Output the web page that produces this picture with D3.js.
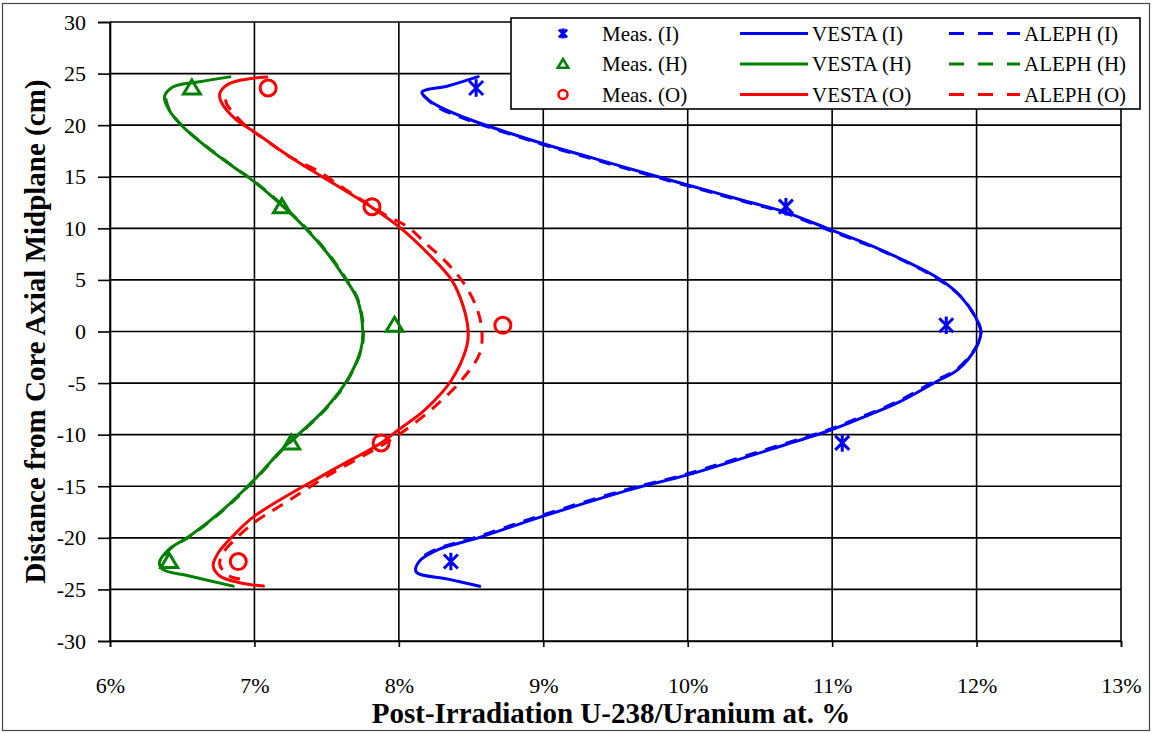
<!DOCTYPE html>
<html>
<head>
<meta charset="utf-8">
<script src="https://cdn.jsdelivr.net/npm/d3@7"></script>
<style>
  html, body { margin: 0; padding: 0; background: #fff; }
  svg { display: block; }
  svg text { font-family: "Liberation Serif", Tinos, "Times New Roman", "DejaVu Serif", serif; fill: #000; }
</style>
</head>
<body>
<svg id="chart" width="1153" height="734"></svg>
<script>
// Axis ticks
const xTicks = [6, 7, 8, 9, 10, 11, 12, 13];
const yTicks = [-30, -25, -20, -15, -10, -5, 0, 5, 10, 15, 20, 25, 30];

// Measured positions (cm) and U-238 at.% for each assembly
const measY = [23.6, 12.1, 0.6, -10.8, -22.3];
const measI = [8.535, 10.68, 11.79, 11.07, 8.36];
const measH = [6.567, 7.19, 7.97, 7.255, 6.41];
const measO = [7.095, 7.814, 8.72, 7.877, 6.888];

// Calculated axial profiles: [U-238 at.%, distance cm]
const vestaI = [[8.55, 24.7], [8.34, 23.8], [8.16, 23.2], [8.20, 22.5], [8.28, 21.8], [8.50, 20.5], [9.0, 18.2], [9.345, 16.8],
  [9.82, 14.9], [10.0, 14.2], [10.41, 12.6], [10.67, 11.6], [11.0, 9.8], [11.34, 7.9], [11.73, 5.2], [11.89, 3.4],
  [11.99, 1.45], [12.03, 0], [12.0, -1.45], [11.87, -3.7], [11.73, -4.8], [11.47, -6.8], [11.2, -8.4], [11.0, -9.5],
  [10.67, -11.0], [10.0, -13.9], [9.61, -15.3], [9.0, -17.9], [8.55, -20.0], [8.28, -21.1], [8.14, -22.3],
  [8.12, -23.3], [8.34, -24.0], [8.56, -24.7]];
const alephI = [[8.17, 22.9], [8.26, 21.8], [8.48, 20.5], [8.98, 18.2], [9.32, 16.8], [9.80, 14.9], [10.39, 12.6],
  [10.65, 11.6], [10.98, 9.8], [11.33, 7.9], [11.72, 5.2], [11.89, 3.4], [11.99, 1.45], [12.03, 0], [12.0, -1.45],
  [11.86, -3.7], [11.71, -4.8], [11.45, -6.8], [11.18, -8.4], [10.98, -9.5], [10.64, -11.0], [9.97, -13.9],
  [9.58, -15.3], [8.97, -17.9], [8.52, -20.0], [8.26, -21.1], [8.13, -22.1]];

const vestaH = [[6.83, 24.68], [6.62, 24.2], [6.435, 23.7], [6.377, 22.74], [6.41, 21.45], [6.505, 19.84], [6.667, 17.9],
  [6.853, 15.97], [7.0, 14.5], [7.2, 12.1], [7.365, 9.84], [7.505, 7.58], [7.62, 5.3], [7.714, 3.06], [7.75, 0],
  [7.737, -1.77], [7.644, -4.68], [7.505, -7.26], [7.365, -9.2], [7.2, -11.3], [7.0, -14.35], [6.784, -17.26],
  [6.55, -19.84], [6.41, -21.1], [6.342, -22.4], [6.365, -23.06], [6.55, -23.7], [6.853, -24.68]];
const alephH = [[6.385, 22.6], [6.415, 21.4], [6.51, 19.8], [6.672, 17.9], [6.858, 15.95], [7.005, 14.5], [7.205, 12.1],
  [7.37, 9.84], [7.51, 7.58], [7.625, 5.3], [7.718, 3.06], [7.755, 0], [7.74, -1.77], [7.648, -4.68], [7.51, -7.26],
  [7.37, -9.2], [7.205, -11.3], [7.005, -14.35], [6.79, -17.26], [6.555, -19.84], [6.415, -21.1], [6.35, -22.3]];

const vestaO = [[7.086, 24.68], [6.90, 24.35], [6.807, 23.87], [6.76, 23.06], [6.77, 22.26], [6.877, 20.48], [7.0, 19.35],
  [7.25, 16.9], [7.505, 14.7], [7.807, 12.1], [8.0, 10.16], [8.20, 7.58], [8.365, 5.0], [8.446, 2.42], [8.48, 0],
  [8.47, -1.45], [8.365, -4.7], [8.18, -7.6], [8.0, -9.5], [7.877, -10.8], [7.505, -13.7], [7.0, -17.9],
  [6.853, -19.8], [6.75, -21.45], [6.714, -22.7], [6.76, -23.7], [6.9, -24.35], [7.063, -24.68]];
const alephO = [[6.80, 22.5], [6.81, 22.0], [6.923, 20.16], [7.093, 18.4], [7.249, 16.9], [7.435, 15.6], [7.605, 14.0],
  [7.76, 12.6], [7.907, 11.3], [8.058, 10.16], [8.19, 8.5], [8.33, 6.7], [8.453, 4.6], [8.54, 2.26], [8.575, 0],
  [8.56, -2.1], [8.435, -4.7], [8.25, -7.26], [8.016, -9.84], [7.83, -11.45], [7.505, -14.0], [7.18, -16.9],
  [7.0, -18.5], [6.877, -20.0], [6.784, -21.45], [6.76, -22.6], [6.82, -23.65], [6.90, -24.0]];

const blue = "#0000FF", green = "#008000", red = "#FF0000";
const serif = "Liberation Serif, Tinos, Times New Roman, DejaVu Serif, serif";

const svg = d3.select("#chart").attr("font-family", serif);
const plot = { left: 110, right: 1121, top: 22, bottom: 641 };

// Outer chart frame
svg.append("rect").attr("x", 2.5).attr("y", 3.5).attr("width", 1147).attr("height", 727)
  .attr("fill", "none").attr("stroke", "#444").attr("stroke-width", 1.2);

const x = d3.scaleLinear().domain([6, 13]).range([plot.left, plot.right]);
const y = d3.scaleLinear().domain([-30, 30]).range([plot.bottom, plot.top]);

// Gridlines
const grid = svg.append("g");
grid.selectAll("line.v").data(xTicks).join("line")
  .attr("x1", d => x(d)).attr("x2", d => x(d)).attr("y1", plot.top).attr("y2", plot.bottom)
  .attr("stroke", "#000").attr("stroke-width", 1.6);
grid.selectAll("line.h").data(yTicks).join("line")
  .attr("x1", plot.left).attr("x2", plot.right).attr("y1", d => y(d)).attr("y2", d => y(d))
  .attr("stroke", "#000").attr("stroke-width", 1.6);

// Y axis
const yAxis = svg.append("g").attr("transform", `translate(${plot.left},0)`)
  .call(d3.axisLeft(y).tickValues(yTicks).tickSize(12).tickPadding(12).tickFormat(d => String(d)));
yAxis.attr("font-family", serif);
yAxis.select(".domain").attr("stroke", "#000").attr("stroke-width", 1.6);
yAxis.selectAll(".tick line").attr("stroke", "#000").attr("stroke-width", 1.6);
yAxis.selectAll(".tick text").attr("font-size", 22).attr("font-family", serif).attr("fill", "#000");

// X axis
const xAxis = svg.append("g").attr("transform", `translate(0,${plot.bottom})`)
  .call(d3.axisBottom(x).tickValues(xTicks).tickSize(6).tickPadding(30).tickFormat(d => d + "%"));
xAxis.attr("font-family", serif);
xAxis.select(".domain").attr("stroke", "#000").attr("stroke-width", 1.6);
xAxis.selectAll(".tick line").attr("stroke", "#000").attr("stroke-width", 1.6);
xAxis.selectAll(".tick text").attr("font-size", 22).attr("font-family", serif).attr("fill", "#000");

// Axis titles
svg.append("text").attr("x", 611).attr("y", 723)
  .attr("text-anchor", "middle").attr("font-size", 29).attr("font-weight", "bold")
  .text("Post-Irradiation U-238/Uranium at. %");
svg.append("text").attr("transform", `translate(45,${(plot.top + plot.bottom) / 2}) rotate(-90)`)
  .attr("text-anchor", "middle").attr("font-size", 29).attr("font-weight", "bold")
  .text("Distance from Core Axial Midplane (cm)");

// Profile curves
const line = d3.line().x(d => x(d[0])).y(d => y(d[1])).curve(d3.curveCatmullRom.alpha(0.5));
const curves = svg.append("g").attr("fill", "none").attr("stroke-width", 3);
const series = [
  { pts: vestaH, color: green, dash: null },
  { pts: alephH, color: green, dash: "12,9" },
  { pts: vestaO, color: red, dash: null },
  { pts: alephO, color: red, dash: "12,9" },
  { pts: vestaI, color: blue, dash: null },
  { pts: alephI, color: blue, dash: "12,9" }
];
series.forEach(s => {
  curves.append("path").attr("d", line(s.pts)).attr("stroke", s.color)
    .attr("stroke-dasharray", s.dash).attr("stroke-linecap", s.dash ? "butt" : "round");
});

// Marker shapes
function starPath(s) {
  return `M${-s},${-s}L${s},${s}M${-s},${s}L${s},${-s}M0,${-s * 1.25}L0,${s * 1.25}`;
}
function triPath(s) {
  return `M0,${-s}L${s * 1.05},${s * 0.75}L${-s * 1.05},${s * 0.75}Z`;
}
const markers = svg.append("g").attr("fill", "none").attr("stroke-width", 3);
measY.forEach((yy, i) => {
  markers.append("path").attr("d", starPath(7)).attr("stroke", blue)
    .attr("transform", `translate(${x(measI[i])},${y(yy)})`);
  markers.append("path").attr("d", triPath(8)).attr("stroke", green)
    .attr("transform", `translate(${x(measH[i])},${y(yy)})`);
  markers.append("circle").attr("r", 8).attr("stroke", red)
    .attr("cx", x(measO[i])).attr("cy", y(yy));
});

// Legend
const legend = svg.append("g");
legend.append("rect").attr("x", 511).attr("y", 18).attr("width", 629).attr("height", 91)
  .attr("fill", "#fff").attr("stroke", "#000").attr("stroke-width", 1.6);
const rows = [
  { key: "I", color: blue, marker: "star" },
  { key: "H", color: green, marker: "tri" },
  { key: "O", color: red, marker: "circle" }
];
rows.forEach((r, i) => {
  const cy = 33.5 + i * 30.5;
  if (r.marker === "star") {
    legend.append("path").attr("d", starPath(4)).attr("stroke", r.color).attr("stroke-width", 3)
      .attr("fill", "none").attr("transform", `translate(563,${cy})`);
  } else if (r.marker === "tri") {
    legend.append("path").attr("d", triPath(5)).attr("stroke", r.color).attr("stroke-width", 2.5)
      .attr("fill", "none").attr("transform", `translate(563,${cy})`);
  } else {
    legend.append("circle").attr("r", 4.5).attr("cx", 563).attr("cy", cy)
      .attr("stroke", r.color).attr("stroke-width", 2.5).attr("fill", "none");
  }
  legend.append("text").attr("x", 602).attr("y", cy + 7).attr("font-size", 21).text(`Meas. (${r.key})`);
  legend.append("line").attr("x1", 740).attr("x2", 808).attr("y1", cy).attr("y2", cy)
    .attr("stroke", r.color).attr("stroke-width", 3);
  legend.append("text").attr("x", 812).attr("y", cy + 7).attr("font-size", 21).text(`VESTA (${r.key})`);
  legend.append("line").attr("x1", 949).attr("x2", 1020).attr("y1", cy).attr("y2", cy)
    .attr("stroke", r.color).attr("stroke-width", 3).attr("stroke-dasharray", "15,14");
  legend.append("text").attr("x", 1024).attr("y", cy + 7).attr("font-size", 21).text(`ALEPH (${r.key})`);
});
</script>
</body>
</html>
